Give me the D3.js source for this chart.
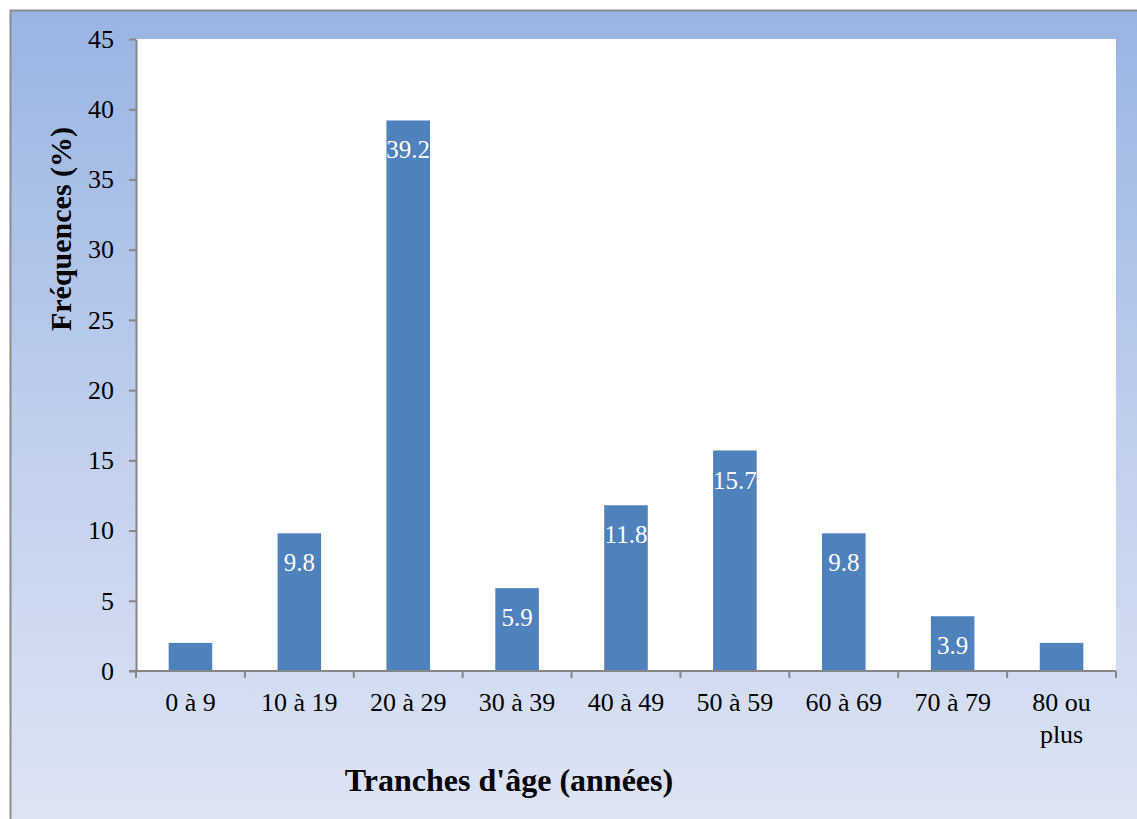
<!DOCTYPE html>
<html>
<head>
<meta charset="utf-8">
<script src="https://cdn.jsdelivr.net/npm/d3@7"></script>
<style>
  html, body { margin: 0; padding: 0; background: #ffffff; }
  svg { display: block; }
</style>
</head>
<body>
<svg id="chart" width="1137" height="819"></svg>
<script>
// Age groups and their share of respondents (%)
const categories = ["0 à 9", "10 à 19", "20 à 29", "30 à 39", "40 à 49", "50 à 59", "60 à 69", "70 à 79", "80 ou plus"];
const frequencies = [2.0, 9.8, 39.2, 5.9, 11.8, 15.7, 9.8, 3.9, 2.0];
const showLabel = [false, true, true, true, true, true, true, true, false];
const yTicks = [0, 5, 10, 15, 20, 25, 30, 35, 40, 45];
const yTitle = "Fréquences (%)";
const xTitle = "Tranches d'âge (années)";

const svg = d3.select("#chart");
const W = 1137, H = 819;
const plot = { left: 136, top: 39, right: 1116, bottom: 671 };
const serif = "'Liberation Serif', 'Times New Roman', serif";
const axisColor = "#868686";
const barColor = "#4f81bd";

// Background gradient panel with a grey frame
const defs = svg.append("defs");
const grad = defs.append("linearGradient").attr("id", "bg").attr("x1", 0).attr("y1", 0).attr("x2", 0).attr("y2", 1);
grad.append("stop").attr("offset", "0%").attr("stop-color", "#99b4e3");
grad.append("stop").attr("offset", "55%").attr("stop-color", "#c3d1ee");
grad.append("stop").attr("offset", "100%").attr("stop-color", "#dfe6f4");

svg.append("rect")
  .attr("x", 10.5).attr("y", 10.5)
  .attr("width", W + 20).attr("height", H + 20)
  .attr("fill", "url(#bg)")
  .attr("stroke", "#8c8c8c").attr("stroke-width", 2);

// Plot area
svg.append("rect")
  .attr("x", plot.left).attr("y", plot.top)
  .attr("width", plot.right - plot.left).attr("height", plot.bottom - plot.top)
  .attr("fill", "#ffffff");

const x = d3.scaleBand().domain(categories).range([plot.left, plot.right]).paddingInner(0.6).paddingOuter(0.3);
const xEdges = d3.scaleLinear().domain([0, categories.length]).range([plot.left, plot.right]);
const y = d3.scaleLinear().domain([0, 45]).range([plot.bottom, plot.top]);

// Bars
svg.append("g").selectAll("rect")
  .data(frequencies)
  .join("rect")
  .attr("x", (d, i) => x(categories[i]))
  .attr("y", d => y(d))
  .attr("width", x.bandwidth())
  .attr("height", d => y(0) - y(d))
  .attr("fill", barColor);

// Value labels inside the bar tops
svg.append("g").selectAll("text")
  .data(frequencies.map((v, i) => ({ v, i })).filter(d => showLabel[d.i]))
  .join("text")
  .attr("x", d => x(categories[d.i]) + x.bandwidth() / 2)
  .attr("y", d => y(d.v) + 38)
  .attr("text-anchor", "middle")
  .attr("fill", "#ffffff")
  .attr("font-family", serif)
  .attr("font-size", 25)
  .text(d => d.v.toFixed(1));

// Y axis
const yAxis = svg.append("g")
  .attr("transform", `translate(${plot.left},0)`)
  .call(d3.axisLeft(y).tickValues(yTicks).tickSize(7).tickSizeOuter(0).tickPadding(15));
yAxis.select(".domain").attr("stroke", axisColor).attr("stroke-width", 2);
yAxis.selectAll(".tick line").attr("stroke", axisColor).attr("stroke-width", 2);
yAxis.selectAll(".tick text")
  .attr("font-family", serif).attr("font-size", 26).attr("fill", "#000");

// X axis: ticks between categories
const xAxis = svg.append("g").attr("transform", `translate(0,${plot.bottom})`);
xAxis.append("line")
  .attr("x1", plot.left - 7).attr("x2", plot.right)
  .attr("stroke", axisColor).attr("stroke-width", 2);
xAxis.selectAll("line.tk")
  .data(d3.range(categories.length + 1))
  .join("line")
  .attr("class", "tk")
  .attr("x1", d => xEdges(d)).attr("x2", d => xEdges(d))
  .attr("y1", 0).attr("y2", 7)
  .attr("stroke", axisColor).attr("stroke-width", 2);

const xLabels = xAxis.selectAll("text.cat")
  .data(categories)
  .join("text")
  .attr("class", "cat")
  .attr("x", d => x(d) + x.bandwidth() / 2)
  .attr("y", 40)
  .attr("text-anchor", "middle")
  .attr("font-family", serif)
  .attr("font-size", 26)
  .attr("fill", "#000");
xLabels.each(function(d) {
  const t = d3.select(this);
  const parts = d === "80 ou plus" ? ["80 ou", "plus"] : [d];
  parts.forEach((p, k) => t.append("tspan")
    .attr("x", x(d) + x.bandwidth() / 2)
    .attr("dy", k === 0 ? 0 : 32)
    .text(p));
});

// Axis titles
svg.append("text")
  .attr("transform", `translate(71,229) rotate(-90)`)
  .attr("text-anchor", "middle")
  .attr("font-family", serif).attr("font-size", 30).attr("font-weight", "bold")
  .attr("fill", "#000")
  .text(yTitle);

svg.append("text")
  .attr("x", 509).attr("y", 791)
  .attr("text-anchor", "middle")
  .attr("font-family", serif).attr("font-size", 32).attr("font-weight", "bold")
  .attr("fill", "#000")
  .text(xTitle);
</script>
</body>
</html>
